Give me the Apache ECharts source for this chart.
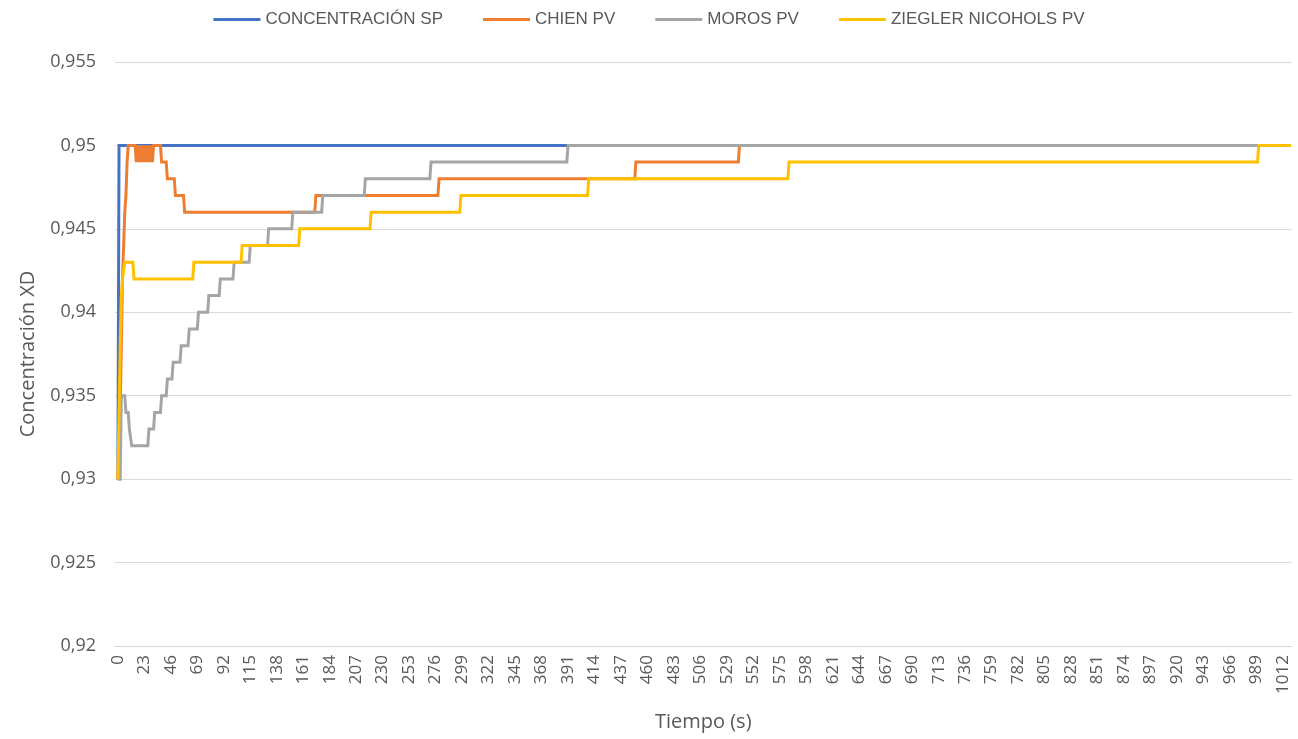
<!DOCTYPE html>
<html>
<head>
<meta charset="utf-8">
<title>Concentración XD</title>
<script src="https://cdn.jsdelivr.net/npm/echarts@6/dist/echarts.min.js"></script>
<style>
  html, body { margin: 0; padding: 0; background: #ffffff; }
  #chart { width: 1298px; height: 739px; }
</style>
</head>
<body>
<div id="chart"></div>
<script>
// Series names shown in the legend
const seriesNames = ['CONCENTRACIÓN SP', 'CHIEN PV', 'MOROS PV', 'ZIEGLER NICOHOLS PV'];
const seriesColors = ['#4472C4', '#ED7D31', '#A5A5A5', '#FFC000'];

// Last sampled second of the run
const endTime = 1019;

// Each response as [time (s), value] at the instants where the value changes
const spSteps = [[0, 0.93], [1, 0.95]];

const chienSteps = [
  [0, 0.93], [2, 0.934], [3, 0.938], [4, 0.942], [5, 0.944], [6, 0.946], [7, 0.947], [8, 0.949], [9, 0.95],
  [16, 0.949], [17, 0.95], [18, 0.949], [19, 0.95], [20, 0.949], [21, 0.95], [22, 0.949], [23, 0.95],
  [24, 0.949], [25, 0.95], [26, 0.949], [27, 0.95], [28, 0.949], [29, 0.95], [30, 0.949], [31, 0.95],
  [38, 0.949], [43, 0.948], [50, 0.947], [58, 0.946], [172, 0.947], [279, 0.948], [450, 0.949], [540, 0.95]
];

const morosSteps = [
  [0, 0.93], [3, 0.935], [7, 0.934], [10, 0.933], [12, 0.932], [27, 0.933], [32, 0.934], [38, 0.935],
  [43, 0.936], [48, 0.937], [55, 0.938], [62, 0.939], [70, 0.94], [79, 0.941], [89, 0.942], [101, 0.943],
  [115, 0.944], [131, 0.945], [152, 0.946], [178, 0.947], [215, 0.948], [272, 0.949], [391, 0.95]
];

const zieglerSteps = [
  [0, 0.93], [1, 0.934], [2, 0.938], [3, 0.941], [4, 0.942], [6, 0.943], [14, 0.942], [66, 0.943],
  [108, 0.944], [158, 0.945], [220, 0.946], [298, 0.947], [409, 0.948], [583, 0.949], [991, 0.95]
];

// Tick labels on the time axis
const timeTicks = [0, 23, 46, 69, 92, 115, 138, 161, 184, 207, 230, 253, 276, 299, 322, 345, 368, 391,
  414, 437, 460, 483, 506, 529, 552, 575, 598, 621, 644, 667, 690, 713, 736, 759, 782, 805, 828, 851,
  874, 897, 920, 943, 966, 989, 1012];

// Value axis range
const yMin = 0.92, yMax = 0.955, yStep = 0.005;

// Samples are one second apart, so a change is drawn from the previous second to the new one
function toPolyline(steps, end) {
  const pts = [];
  steps.forEach(function (s, i) {
    if (i > 0) {
      const prev = steps[i - 1];
      if (s[0] - 1 > prev[0]) pts.push([s[0] - 1, prev[1]]);
    }
    pts.push([s[0], s[1]]);
  });
  const last = steps[steps.length - 1];
  if (last[0] < end) pts.push([end, last[1]]);
  return pts;
}

const allSteps = [spSteps, chienSteps, morosSteps, zieglerSteps];

const chart = echarts.init(document.getElementById('chart'), null, { renderer: 'canvas' });

const labelColor = '#595959';
const gridColor = '#D9D9D9';

chart.setOption({
  animation: false,
  backgroundColor: '#ffffff',
  legend: {
    top: 6,
    left: 'center',
    itemWidth: 47,
    itemHeight: 14,
    itemGap: 40,
    icon: 'path://M0,6 L47,6 L47,9 L0,9 Z',
    textStyle: { color: labelColor, fontSize: 17, fontFamily: 'Liberation Sans Narrow, Arial Narrow, sans-serif' },
    data: seriesNames
  },
  grid: { left: 115, right: 6.5, top: 62, bottom: 93, containLabel: false },
  xAxis: {
    type: 'value',
    min: -2.5,
    max: endTime + 0.5,
    name: 'Tiempo (s)',
    nameLocation: 'middle',
    nameGap: 66,
    nameTextStyle: { color: labelColor, fontSize: 20, fontFamily: 'Open Sans, sans-serif' },
    axisLine: { show: true, lineStyle: { color: gridColor, width: 1 } },
    axisTick: { show: false },
    splitLine: { show: false },
    axisLabel: {
      customValues: timeTicks,
      rotate: 90,
      margin: 9,
      color: labelColor,
      fontSize: 17,
      fontFamily: 'Open Sans, sans-serif',
      formatter: function (v) { return String(v); }
    }
  },
  yAxis: {
    type: 'value',
    min: yMin,
    max: yMax,
    interval: yStep,
    name: 'Concentración XD',
    nameLocation: 'middle',
    nameGap: 77,
    nameTextStyle: { color: labelColor, fontSize: 20, fontFamily: 'Open Sans, sans-serif' },
    axisLine: { show: false },
    axisTick: { show: false },
    splitLine: { show: true, lineStyle: { color: gridColor, width: 1 } },
    axisLabel: {
      margin: 19,
      color: labelColor,
      fontSize: 18,
      fontFamily: 'Open Sans, sans-serif',
      formatter: function (v) {
        return String(parseFloat(v.toFixed(3))).replace('.', ',');
      }
    }
  },
  series: allSteps.map(function (steps, i) {
    return {
      name: seriesNames[i],
      type: 'line',
      data: toPolyline(steps, endTime),
      showSymbol: false,
      symbol: 'none',
      color: seriesColors[i],
      lineStyle: { color: seriesColors[i], width: 3, join: 'miter' },
      silent: true
    };
  })
});
</script>
</body>
</html>
